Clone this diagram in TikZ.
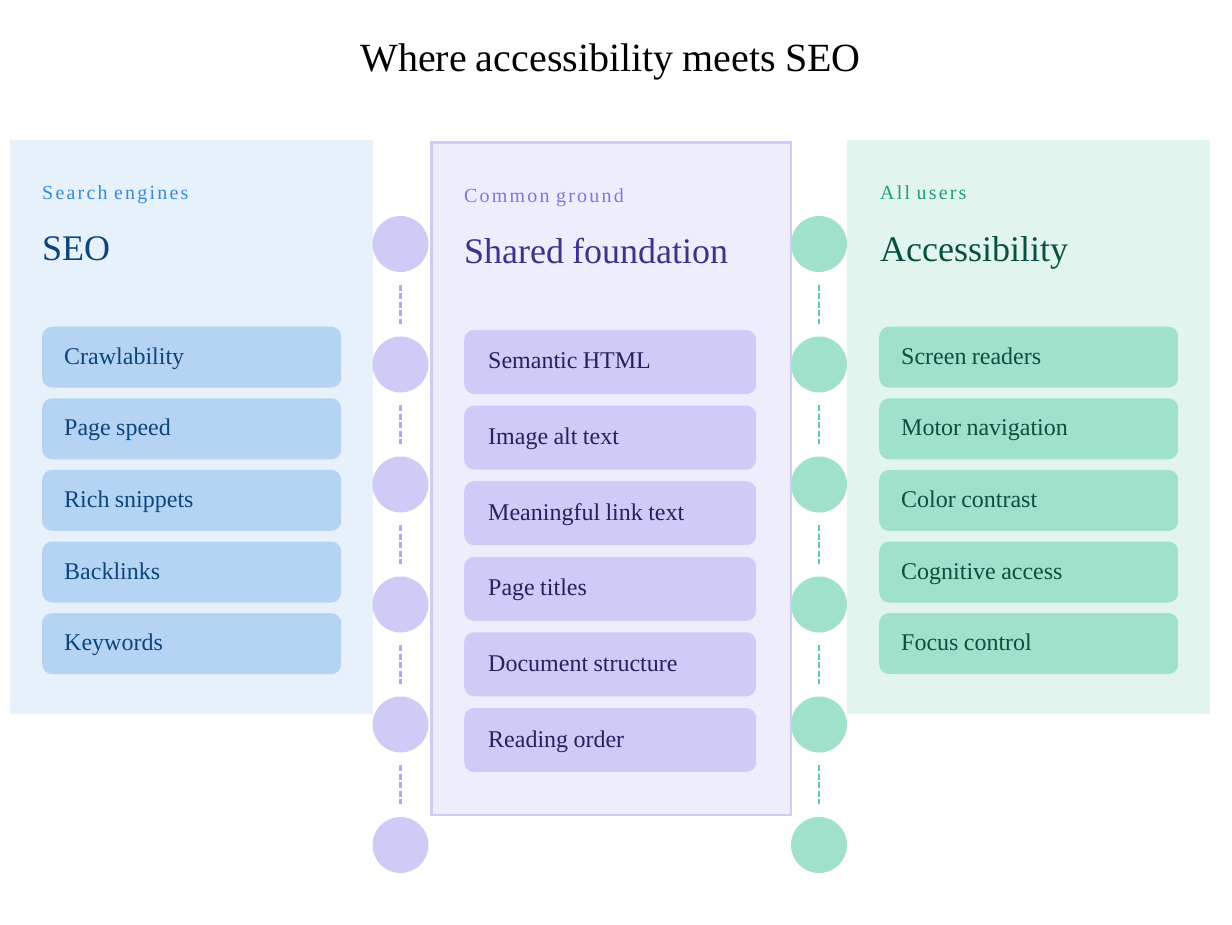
\documentclass[tikz,border=0pt]{standalone}
\usepackage{fontspec}
\setmainfont{Liberation Serif}[WordSpace=0.9]
\usetikzlibrary{calc}
\definecolor{lbg}{HTML}{E6F1FB}
\definecolor{litem}{HTML}{B5D4F4}
\definecolor{ltext}{HTML}{0C447C}
\definecolor{lsub}{HTML}{378ADD}
\definecolor{cbg}{HTML}{EEEDFE}
\definecolor{citem}{HTML}{CECBF6}
\definecolor{ctext}{HTML}{26215C}
\definecolor{chead}{HTML}{3C3489}
\definecolor{csub}{HTML}{7F77DD}
\definecolor{cdash}{HTML}{AFA9EC}
\definecolor{rbg}{HTML}{E1F5EE}
\definecolor{ritem}{HTML}{9FE1CB}
\definecolor{rtext}{HTML}{085041}
\definecolor{rsub}{HTML}{1D9E75}
\definecolor{rdash}{HTML}{5DCAA5}
\tikzset{
  itembox/.style={rounded corners=10pt, anchor=west, align=left, inner ysep=0pt,
    text height=17pt, text depth=3pt, font=\fontsize{24}{28}\selectfont,
    execute at begin node={\spaceskip=0pt\xspaceskip=0pt}},
  leftitem/.style={itembox, fill=litem, text=ltext, minimum height=61, text width=255, inner xsep=22},
  centeritem/.style={itembox, fill=citem, text=ctext, minimum height=64, text width=244, inner xsep=24},
  rightitem/.style={itembox, fill=ritem, text=rtext, minimum height=61, text width=255, inner xsep=22},
  subhead/.style={anchor=base west, inner sep=0pt, font=\fontsize{20}{24}\selectfont\addfontfeature{LetterSpace=11}},
  mainhead/.style={anchor=base west, inner sep=0pt, font=\fontsize{36}{42}\selectfont},
  dot/.style={circle, inner sep=0pt, minimum size=56},
  link/.style={line width=2.5pt, dash pattern=on 6pt off 2.5pt, shorten <=12.5pt, shorten >=12.5pt},
}
\begin{document}
\begin{tikzpicture}[x=1pt,y=-1pt]
\useasboundingbox (0,0) rectangle (1232,925);
\fill[white] (0,0) rectangle (1232,925);

\node[anchor=base, inner sep=0pt, font=\fontsize{40}{48}\selectfont] (title) at (610.5,72) {Where accessibility meets SEO};

% panels
\node[fill=lbg, anchor=north west, minimum width=363, minimum height=574, inner sep=0pt] (lpanel) at (10,140) {};
\node[fill=cbg, draw=citem, line width=2.5pt, anchor=north west, minimum width=359.5, minimum height=672.5, inner sep=0pt] (cpanel) at (430.25,141.25) {};
\node[fill=rbg, anchor=north west, minimum width=363, minimum height=574, inner sep=0pt] (rpanel) at (847,140) {};

% headings
\node[subhead, text=lsub] (lsubn) at (42,200) {Search engines};
\node[mainhead, text=ltext] (lhead) at (42,261) {SEO};
\node[subhead, text=csub] (csubn) at (464,202.5) {Common ground};
\node[mainhead, text=chead] (chead) at (464,264) {Shared foundation};
\node[subhead, text=rsub] (rsubn) at (880,200) {All users};
\node[mainhead, text=rtext] (rhead) at (880,261.5) {Accessibility};

% left items
\node[leftitem] (l1) at (42,357.2) {Crawlability};
\node[leftitem] (l2) at (42,428.8) {Page speed};
\node[leftitem] (l3) at (42,500.4) {Rich snippets};
\node[leftitem] (l4) at (42,572.0) {Backlinks};
\node[leftitem] (l5) at (42,643.6) {Keywords};

% center items
\node[centeritem] (c1) at (464,362) {Semantic HTML};
\node[centeritem] (c2) at (464,437.6) {Image alt text};
\node[centeritem] (c3) at (464,513.2) {Meaningful link text};
\node[centeritem] (c4) at (464,588.8) {Page titles};
\node[centeritem] (c5) at (464,664.4) {Document structure};
\node[centeritem] (c6) at (464,740) {Reading order};

% right items
\node[rightitem] (r1) at (879,357.2) {Screen readers};
\node[rightitem] (r2) at (879,428.8) {Motor navigation};
\node[rightitem] (r3) at (879,500.4) {Color contrast};
\node[rightitem] (r4) at (879,572.0) {Cognitive access};
\node[rightitem] (r5) at (879,643.6) {Focus control};

% circles
\foreach \i/\y in {1/244,2/364.5,3/484.5,4/604.5,5/724.5,6/845}{
  \node[dot, fill=citem] (ld\i) at (400.5,\y) {};
  \node[dot, fill=ritem] (rd\i) at (819,\y) {};
}
\foreach \i/\j in {1/2,2/3,3/4,4/5,5/6}{
  \draw[link, cdash] (ld\i) -- (ld\j);
  \draw[link, rdash] (rd\i) -- (rd\j);
}
\end{tikzpicture}
\end{document}
